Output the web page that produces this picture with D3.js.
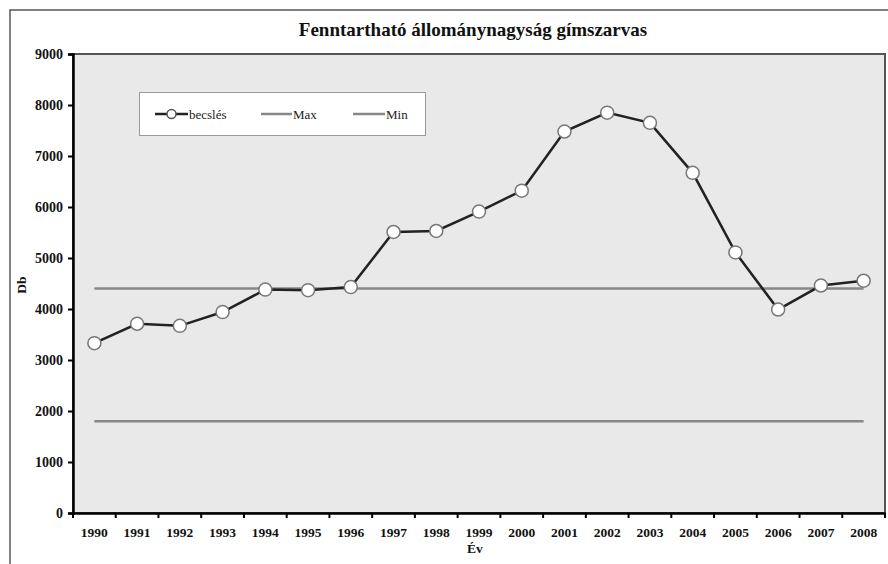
<!DOCTYPE html>
<html lang="hu">
<head>
  <meta charset="utf-8">
  <title>Fenntartható állománynagyság gímszarvas</title>
  <style>
    html, body { margin: 0; padding: 0; background: #fff; }
    svg { display: block; font-family: "Liberation Serif", "Times New Roman", serif; }
  </style>
</head>
<body>
<div id="chart"></div>
<script src="https://cdn.jsdelivr.net/npm/d3@7/dist/d3.min.js"></script>
<script>
  ////////////////////////////////////////////////// DATA

  var years = ["1990","1991","1992","1993","1994","1995","1996","1997","1998","1999",
               "2000","2001","2002","2003","2004","2005","2006","2007","2008"];
  var becsles = [3330, 3710, 3670, 3940, 4380, 4370, 4430, 5510, 5530, 5910,
                 6320, 7480, 7850, 7650, 6670, 5110, 3990, 4460, 4555];
  var maxValue = 4400;
  var minValue = 1800;
  var yTicks = [0, 1000, 2000, 3000, 4000, 5000, 6000, 7000, 8000, 9000];
  var seriesNames = ["becslés", "Max", "Min"];

  ////////////////////////////////////////////////// SETUP

  var width = 888, height = 564;
  var plot = {left: 73, top: 54, right: 885, bottom: 513};

  var svg = d3.select("#chart").append("svg")
    .attr("width", width)
    .attr("height", height);

  // outer chart frame
  svg.append("rect")
    .attr("x", 10).attr("y", 10)
    .attr("width", 900).attr("height", 600)
    .attr("fill", "#fff")
    .attr("stroke", "#555")
    .attr("stroke-width", 1.5);

  var x = d3.scaleBand().domain(years).range([plot.left, plot.right]).padding(0);
  var y = d3.scaleLinear().domain([0, 9000]).range([plot.bottom, plot.top]);
  var cx = function(d) { return x(d) + x.bandwidth() / 2; };

  // plot area
  svg.append("rect")
    .attr("x", plot.left).attr("y", plot.top)
    .attr("width", plot.right - plot.left)
    .attr("height", plot.bottom - plot.top)
    .attr("fill", "#e9e9e9")
    .attr("stroke", "#555")
    .attr("stroke-width", 2);

  // title
  svg.append("text")
    .attr("x", 473).attr("y", 36)
    .attr("text-anchor", "middle")
    .attr("font-size", 19).attr("font-weight", "bold")
    .attr("fill", "#111")
    .text("Fenntartható állománynagyság gímszarvas");

  // Y axis
  var yAxis = svg.append("g")
    .attr("transform", "translate(" + plot.left + ",0)")
    .call(d3.axisLeft(y).tickValues(yTicks).tickFormat(d3.format("d")).tickSize(5).tickPadding(5));
  yAxis.select(".domain").attr("stroke", "#000").attr("stroke-width", 2.5);
  yAxis.selectAll(".tick line").attr("stroke", "#000").attr("stroke-width", 2);
  yAxis.selectAll("text").attr("font-size", 14).attr("font-weight", "bold")
    .attr("fill", "#111").attr("font-family", "Liberation Serif, serif");

  // X axis (labels centered, ticks between categories)
  var xAxis = svg.append("g")
    .attr("transform", "translate(0," + plot.bottom + ")")
    .call(d3.axisBottom(x).tickSize(0).tickPadding(14));
  xAxis.select(".domain").attr("stroke", "#000").attr("stroke-width", 2.5);
  xAxis.selectAll("text").attr("font-size", 13.5).attr("font-weight", "bold")
    .attr("fill", "#111").attr("font-family", "Liberation Serif, serif");
  xAxis.selectAll(".boundary")
    .data(years.concat(["end"]))
    .enter().append("line")
    .attr("x1", function(d, i) { return i < years.length ? x(d) : plot.right; })
    .attr("x2", function(d, i) { return i < years.length ? x(d) : plot.right; })
    .attr("y1", 0).attr("y2", 5)
    .attr("stroke", "#000").attr("stroke-width", 2);

  // axis titles
  svg.append("text")
    .attr("x", 475).attr("y", 553)
    .attr("text-anchor", "middle")
    .attr("font-size", 13.5).attr("font-weight", "bold").attr("fill", "#111")
    .text("Év");
  svg.append("text")
    .attr("transform", "translate(26,285) rotate(-90)")
    .attr("text-anchor", "middle")
    .attr("font-size", 13.5).attr("font-weight", "bold").attr("fill", "#111")
    .text("Db");

  // Max / Min lines
  var flat = d3.line().x(function(d) { return cx(d); });
  svg.append("path")
    .datum(years)
    .attr("d", flat.y(function() { return y(maxValue); }))
    .attr("fill", "none").attr("stroke", "#888").attr("stroke-width", 2.5);
  svg.append("path")
    .datum(years)
    .attr("d", flat.y(function() { return y(minValue); }))
    .attr("fill", "none").attr("stroke", "#888").attr("stroke-width", 2.5);

  // becslés line + markers
  var line = d3.line()
    .x(function(d, i) { return cx(years[i]); })
    .y(function(d) { return y(d); });
  svg.append("path")
    .datum(becsles)
    .attr("d", line)
    .attr("fill", "none").attr("stroke", "#222").attr("stroke-width", 2.5);
  svg.selectAll(".pt")
    .data(becsles)
    .enter().append("circle")
    .attr("cx", function(d, i) { return cx(years[i]); })
    .attr("cy", function(d) { return y(d); })
    .attr("r", 6.5)
    .attr("fill", "#fff")
    .attr("stroke", "#777").attr("stroke-width", 1.5);

  // legend
  var legend = svg.append("g");
  legend.append("rect")
    .attr("x", 139.5).attr("y", 92.5)
    .attr("width", 286).attr("height", 43)
    .attr("fill", "#fff").attr("stroke", "#999").attr("stroke-width", 1);
  var items = [
    {x1: 155, x2: 188, color: "#222", marker: true},
    {x1: 261, x2: 292, color: "#888", marker: false},
    {x1: 353, x2: 385, color: "#888", marker: false}
  ];
  items.forEach(function(it, i) {
    legend.append("line")
      .attr("x1", it.x1).attr("x2", it.x2)
      .attr("y1", 114).attr("y2", 114)
      .attr("stroke", it.color).attr("stroke-width", 2.5);
    if (it.marker) {
      legend.append("circle")
        .attr("cx", (it.x1 + it.x2) / 2).attr("cy", 114).attr("r", 4.5)
        .attr("fill", "#fff").attr("stroke", "#555").attr("stroke-width", 1.5);
    }
    legend.append("text")
      .attr("x", it.x2 + 1).attr("y", 118.5)
      .attr("font-size", 13).attr("fill", "#222")
      .text(seriesNames[i]);
  });
</script>
</body>
</html>
